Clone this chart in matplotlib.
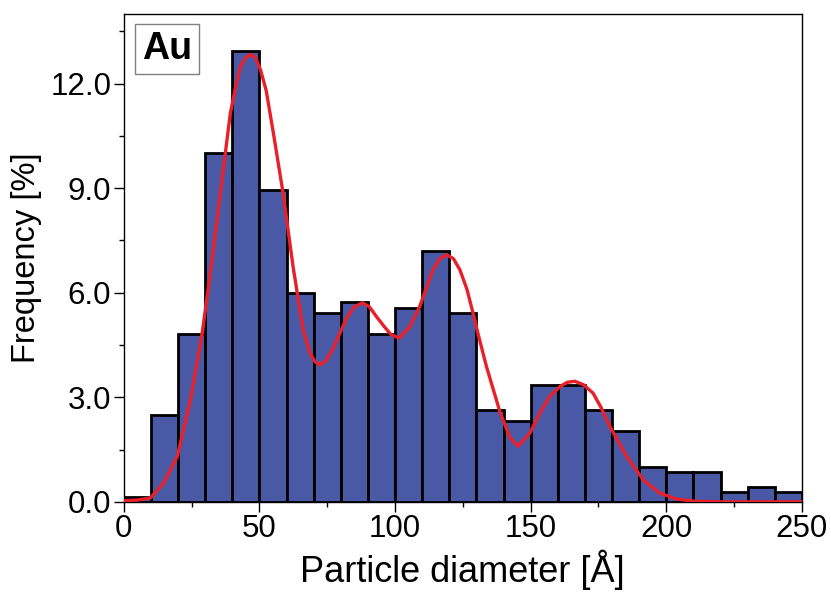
import matplotlib
matplotlib.use("Agg")
import matplotlib.pyplot as plt
from matplotlib.ticker import MultipleLocator, FormatStrFormatter

plt.rcParams['font.family'] = ['Liberation Sans', 'DejaVu Sans']

# Histogram data (bin edges every 10 Å)
bin_left = [0, 10, 20, 30, 40, 50, 60, 70, 80, 90, 100, 110, 120,
            130, 140, 150, 160, 170, 180, 190, 200, 210, 220, 230, 240]
freq = [0.15, 2.50, 4.82, 10.0, 12.95, 8.96, 6.0, 5.43, 5.74, 4.82, 5.57,
        7.20, 5.43, 2.64, 2.33, 3.36, 3.36, 2.64, 2.04, 1.00, 0.86, 0.86,
        0.29, 0.43, 0.29]
bin_width = 10

# Fitted curve, points
fit_x = [0, 5, 9.8, 14.7, 19.7, 24.6, 28.9, 31.9, 35.6, 39.3, 41.5, 43.0, 45.0,
         46.6, 48.5, 50.4, 52.5, 55.1, 58.7, 62.4, 66.1, 68.6, 70.5, 72.3, 74.5,
         77.2, 82.1, 85.0, 88.0, 90.5, 93.1, 96.0, 98.5, 101.5, 105.5, 109.1,
         114.0, 116.5, 119.0, 121.5, 123.9, 126.5, 128.8, 131.0, 133.7, 138.6,
         142.3, 145.4, 149.7, 153.4, 157.0, 160.8, 163.5, 166.3, 169.5, 173.0,
         176.0, 179.2, 185.4, 191.5, 197.6, 203.8, 210.0, 220.0, 250.0]
fit_y = [0.03, 0.05, 0.11, 0.54, 1.30, 2.93, 4.85, 6.57, 8.87, 11.17, 12.0, 12.50,
         12.75, 12.84, 12.75, 12.40, 11.8, 10.6, 8.87, 6.75, 4.94, 4.27, 4.02,
         3.93, 4.05, 4.41, 5.27, 5.60, 5.71, 5.60, 5.32, 5.03, 4.80, 4.70, 5.03,
         5.61, 6.66, 6.98, 7.09, 6.98, 6.66, 6.10, 5.40, 4.70, 3.88, 2.60, 1.85,
         1.60, 1.97, 2.55, 3.02, 3.31, 3.43, 3.46, 3.36, 3.12, 2.70, 2.16, 1.30,
         0.63, 0.25, 0.08, 0.02, 0.0, 0.0]

x_ticks = [0, 50, 100, 150, 200, 250]
y_ticks = [0.0, 3.0, 6.0, 9.0, 12.0]

fig = plt.figure(figsize=(8.31, 5.96), dpi=100)
ax = fig.add_axes([0.149, 0.158, 0.816, 0.8185])

ax.bar(bin_left, freq, width=bin_width, align='edge', color='#4A59A6',
       edgecolor='black', linewidth=2.0, zorder=2)
ax.plot(fit_x, fit_y, color='#E8202A', linewidth=2.4, zorder=3,
        solid_joinstyle='round', solid_capstyle='round')

ax.set_xlim(0, 250)
ax.set_ylim(0, 14)
ax.set_xticks(x_ticks)
ax.set_yticks(y_ticks)
ax.xaxis.set_minor_locator(MultipleLocator(25))
ax.yaxis.set_minor_locator(MultipleLocator(1.5))
ax.yaxis.set_major_formatter(FormatStrFormatter('%.1f'))
ax.tick_params(which='major', direction='out', length=7, width=1,
               labelsize=22.5, pad=2)
ax.tick_params(which='minor', direction='out', length=3.6, width=1)
for s in ax.spines.values():
    s.set_linewidth(1)

ax.set_xlabel('Particle diameter [Å]', fontsize=26, labelpad=4)
ax.set_ylabel('Frequency [%]', fontsize=23.5, labelpad=6)

ax.text(0.0265, 0.965, 'Au', transform=ax.transAxes, fontsize=27,
        fontweight='bold', va='top', ha='left',
        bbox=dict(boxstyle='square,pad=0.18', facecolor='white',
                  edgecolor='#808080', linewidth=1))

fig.savefig('out.png', dpi=100)
